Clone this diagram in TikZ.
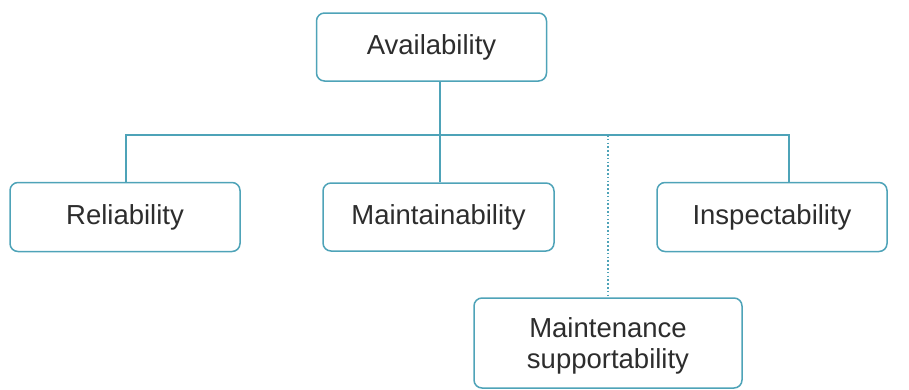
\documentclass[tikz,border=0pt]{standalone}
\usepackage{fontspec}
\setmainfont{Liberation Sans}
\definecolor{boxline}{RGB}{78,163,184}
\definecolor{boxtext}{RGB}{45,45,45}
\begin{document}
\begin{tikzpicture}[x=1pt,y=-1pt,
  box/.style={draw=boxline, line width=1.5pt, rounded corners=8pt, fill=white,
    text=boxtext, font=\fontsize{27.5}{31}\selectfont, inner sep=0pt, align=center},
  link/.style={draw=boxline, line width=1.5pt},
  dotlink/.style={draw=boxline, line width=1.8pt, dash pattern=on 1.6pt off 2.2pt}]
\useasboundingbox (0,0) rectangle (909,389);

% boxes
\node[box, minimum width=230pt, minimum height=68pt] (avail) at (431.5,47) {Availability};
\node[box, minimum width=230pt, minimum height=69pt] (rel) at (125,217) {Reliability};
\node[box, minimum width=231pt, minimum height=68pt] (maint) at (438.5,217) {Maintainability};
\node[box, minimum width=230pt, minimum height=69pt] (insp) at (772,217) {Inspectability};
\node[box, minimum width=268pt, minimum height=90pt] (supp) at (608,343) {};
\node[text=boxtext, font=\fontsize{27.5}{31}\selectfont, align=center, inner sep=0pt]
  (supptext) at (608,346) {Maintenance\\supportability};

% junction points on the horizontal bus
\coordinate (jl) at (126,135);
\coordinate (jm) at (440,135);
\coordinate (jd) at (608,135);
\coordinate (jr) at (789,135);

% connectors
\draw[link] (avail.south -| jm) -- (jm);
\draw[link] (rel.north -| jl) -- (jl) -- (jr) -- (insp.north -| jr);
\draw[link] (jm) -- (maint.north -| jm);
\draw[dotlink] (jd) -- (supp.north -| jd);
\end{tikzpicture}
\end{document}
